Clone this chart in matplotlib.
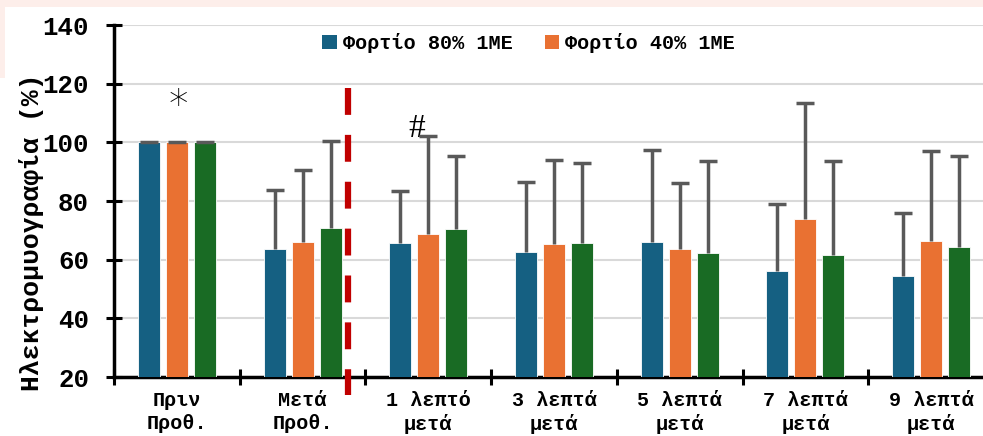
import matplotlib
matplotlib.use('Agg')
import matplotlib.pyplot as plt
from matplotlib.patches import Patch, Rectangle
import numpy as np

plt.rcParams['font.family'] = ['Liberation Mono', 'DejaVu Sans']
plt.rcParams['font.weight'] = 'bold'

categories = ['Πριν\nΠροθ.', 'Μετά\nΠροθ.', '1 λεπτό\nμετά', '3 λεπτά\nμετά',
              '5 λεπτά\nμετά', '7 λεπτά\nμετά', '9 λεπτά\nμετά']
series_names = ['Φορτίο 80% 1ΜΕ', 'Φορτίο 40% 1ΜΕ', 'Φορτίο 3']
load80 = [100, 63.5, 65.6, 62.5, 65.9, 56.1, 54.5]
load40 = [100, 65.9, 68.6, 65.3, 63.7, 73.9, 66.4]
load3 = [100, 70.7, 70.3, 65.7, 62.3, 61.6, 64.2]
load80_top = [100, 83.7, 83.5, 86.5, 97.5, 79.0, 76.0]
load40_top = [100, 90.5, 102.0, 94.0, 86.0, 113.5, 97.0]
load3_top = [100, 100.5, 95.5, 93.0, 93.5, 93.5, 95.5]

colors = ['#156082', '#E97132', '#196B24']

fig = plt.figure(figsize=(9.83, 4.36), dpi=100)
fig.patches.append(Rectangle((0, 1 - 7 / 436), 1, 7 / 436, transform=fig.transFigure,
                             facecolor='#fdeeea', edgecolor='none', zorder=-5))
fig.patches.append(Rectangle((0, 1 - 78 / 436), 5 / 983, 78 / 436, transform=fig.transFigure,
                             facecolor='#fdeeea', edgecolor='none', zorder=-5))
ax = fig.add_axes([114 / 983, 59 / 436, 880 / 983, 352 / 436])

x = np.arange(len(categories)) + 0.5
offsets = [-0.223, 0, 0.223]
vals = [load80, load40, load3]
tops = [load80_top, load40_top, load3_top]
for i in range(3):
    v = np.array(vals[i])
    t = np.array(tops[i])
    ax.bar(x + offsets[i], v - 20, bottom=20, width=0.175, color=colors[i],
           edgecolor='white', linewidth=0.6, zorder=3)
    # upper error bar only
    ax.vlines(x + offsets[i], v, t, color='#595959', linewidth=2.5, zorder=4)
    ax.plot(x + offsets[i], t, linestyle='none', marker='_', markersize=13,
            markeredgewidth=2.5, color='#595959', zorder=4)

ax.set_xlim(0, 7)
ax.set_ylim(20, 140)
ax.set_yticks(np.arange(20, 141, 20))
ax.yaxis.grid(True, color='#d9d9d9', linewidth=1.5, zorder=0)
ax.set_axisbelow(True)

ax.set_xticks(np.arange(0, 8))
ax.set_xticklabels([])
ax.set_xticks(x, minor=True)
ax.set_xticklabels(categories, minor=True, fontsize=14.5, linespacing=1.25)
ax.tick_params(axis='x', which='minor', length=0, pad=10)
ax.tick_params(axis='x', which='major', direction='inout', length=12, width=2.2)
ax.tick_params(axis='y', direction='inout', length=12, width=2.2, labelsize=18.5, pad=12)

for s in ['top', 'right']:
    ax.spines[s].set_visible(False)
for s in ['left', 'bottom']:
    ax.spines[s].set_linewidth(2.5)

ax.set_ylabel('Ηλεκτρομυογραφία (%)', fontsize=19, fontweight='bold')
ax.yaxis.set_label_coords(-0.079, 0.412)

# vertical separator
ax.plot([1.862, 1.862], [118.5, 14], color='#c00000', linewidth=4.5,
        linestyle=(0, (4.3, 3.2)), clip_on=False, zorder=5)

ax.text(0.509, 112.3, '*', ha='center', va='center', fontsize=28,
        family='DejaVu Sans', fontweight='light')
ax.text(2.41, 104.5, '#', ha='center', va='center', fontsize=24,
        family='Liberation Serif', fontweight='normal')

handles = [Patch(facecolor=colors[0]), Patch(facecolor=colors[1])]
ax.legend(handles, series_names[:2], loc='center', bbox_to_anchor=(0.471, 0.949),
          ncol=2, frameon=False, fontsize=14.5, handlelength=0.7, handleheight=0.7,
          handletextpad=0.3, columnspacing=1.6)

fig.savefig('out.png', dpi=100, facecolor='white')
